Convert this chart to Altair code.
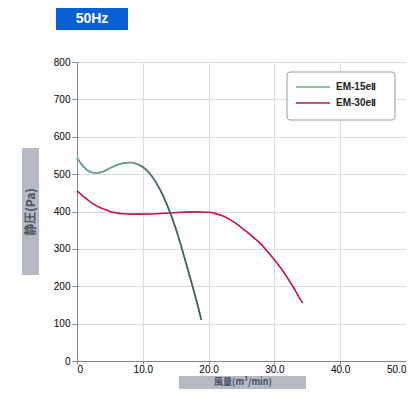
import altair as alt
import pandas as pd

series_names = ["EM-15eⅡ", "EM-30eⅡ"]
em15_x = [0, 1, 2, 3, 4, 5, 6, 7, 8, 9, 10, 11, 12, 13, 14, 15, 16, 17, 18, 18.9]
em15_y = [543, 520, 506, 503, 507, 516, 524, 529, 531, 528, 519, 503, 478, 445, 404, 355, 297, 235, 172, 110]
em30_x = [0, 1, 2, 3, 4, 5, 6, 7, 8, 10, 12, 14, 16, 18, 20, 21, 22, 23, 24, 25, 26, 27, 28, 29, 30, 31, 32, 33, 34, 34.3]
em30_y = [455, 440, 426, 415, 407, 400, 396, 394, 393, 393, 394, 396, 398, 399, 398, 395, 389, 381, 370, 357, 343, 328, 312, 292, 271, 248, 222, 194, 163, 155]
colors = ["#6aa884", "#cc1144"]
x_ticks = [0, 10, 20, 30, 40, 50]
y_ticks = [0, 100, 200, 300, 400, 500, 600, 700, 800]
badge_text = "50Hz"
x_title = "風量(m³/min)"
y_title = "静圧(Pa)"

df = pd.concat([
    pd.DataFrame({"x": em15_x, "y": em15_y, "s": series_names[0]}),
    pd.DataFrame({"x": em30_x, "y": em30_y, "s": series_names[1]}),
])
df15 = df[df.s == series_names[0]]

W, H = 329, 299

xenc = alt.X("x:Q", scale=alt.Scale(domain=[0, 50], nice=False),
             axis=alt.Axis(values=x_ticks, title=None, labelOverlap=False, labelPadding=0, tickSize=3,
                           labelExpr="datum.value == 0 ? '0' : format(datum.value, '.1f')"))
yenc = alt.Y("y:Q", scale=alt.Scale(domain=[0, 800], nice=False),
             axis=alt.Axis(values=y_ticks, title=None, labelOverlap=False))

lines = alt.Chart(df).mark_line(strokeWidth=1.6, interpolate="monotone").encode(
    x=xenc, y=yenc,
    color=alt.Color("s:N", scale=alt.Scale(domain=series_names, range=colors), legend=None)
)

grad = alt.LinearGradient(gradient="linear", x1=0, x2=1, y1=0, y2=0, stops=[
    alt.GradientStop(color="#6aa884", offset=0),
    alt.GradientStop(color="#5e9a82", offset=0.45),
    alt.GradientStop(color="#4a5c6c", offset=0.65),
    alt.GradientStop(color="#4a5c6c", offset=1),
])
over15 = alt.Chart(df15).mark_line(strokeWidth=1.6, interpolate="monotone", color=grad).encode(
    x=xenc, y=yenc)

# manual legend
leg_box = alt.Chart(pd.DataFrame({"a": [0]})).mark_rect(
    fill="white", stroke="#999", strokeWidth=1, cornerRadius=3).encode(
    x=alt.value(210), x2=alt.value(318), y=alt.value(10), y2=alt.value(58))
legend_layers = [leg_box]
for i, (name, col) in enumerate(zip(series_names, colors)):
    ly = 25 + 16 * i
    d = pd.DataFrame({"t": [name]})
    legend_layers.append(alt.Chart(d).mark_rule(color=col, strokeWidth=1.6).encode(
        x=alt.value(219), x2=alt.value(253), y=alt.value(ly)))
    legend_layers.append(alt.Chart(d).mark_text(align="left", baseline="middle", fontWeight="bold",
                                                fontSize=10, color="#222",
                                                font="Liberation Sans").encode(
        x=alt.value(259), y=alt.value(ly), text="t:N"))

one = pd.DataFrame({"t": [badge_text]})
badge_rect = alt.Chart(one).mark_rect(color="#0a5fd6").encode(
    x=alt.value(-21), x2=alt.value(51), y=alt.value(-55), y2=alt.value(-32))
badge_txt = alt.Chart(one).mark_text(color="white", fontWeight="bold", fontSize=14,
                                     font="Liberation Sans").encode(
    x=alt.value(15), y=alt.value(-43), text="t:N")

yt = pd.DataFrame({"t": [y_title]})
yt_rect = alt.Chart(yt).mark_rect(color="#b4b9c4").encode(
    x=alt.value(-55), x2=alt.value(-38), y=alt.value(86), y2=alt.value(213))
yt_txt = alt.Chart(yt).mark_text(color="#4a5060", fontWeight="bold", fontSize=12, angle=270,
                                 font="Noto Sans CJK JP").encode(
    x=alt.value(-46), y=alt.value(150), text="t:N")

xt = pd.DataFrame({"t": [x_title]})
xt_rect = alt.Chart(xt).mark_rect(color="#b4b9c4").encode(
    x=alt.value(102), x2=alt.value(229), y=alt.value(314), y2=alt.value(332))
xt_txt = alt.Chart(xt).mark_text(color="#4a5060", fontWeight="bold", fontSize=9,
                                 font="Noto Sans CJK JP").encode(
    x=alt.value(166), y=alt.value(320), text="t:N")

chart = alt.layer(lines, over15, *legend_layers, badge_rect, badge_txt, yt_rect, yt_txt,
                  xt_rect, xt_txt).properties(
    width=W, height=H,
    autosize=alt.AutoSizeParams(type="none"),
    padding={"left": 69, "top": 54, "right": 0, "bottom": 28},
).configure_view(stroke="#333", strokeWidth=1.5).configure_axis(
    gridColor="#999", gridWidth=1, domainColor="#222", domainWidth=2,
    tickColor="#888", tickSize=4, labelFont="Liberation Sans", labelFontSize=10,
    labelColor="#222", labelPadding=3,
).configure(background="white")

chart.save("out.html", embed_options={"renderer": "svg", "actions": False})
